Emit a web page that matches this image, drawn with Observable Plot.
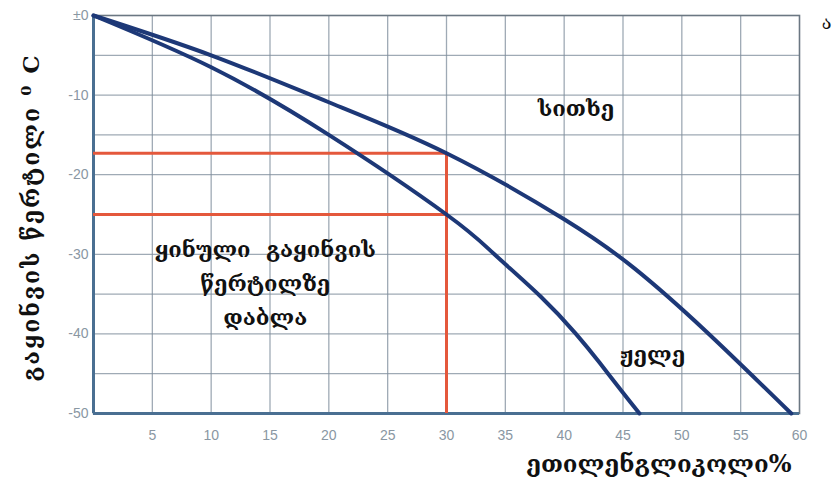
<!DOCTYPE html>
<html>
<head>
<meta charset="utf-8">
<script src="https://cdn.jsdelivr.net/npm/d3@7"></script>
<script src="https://cdn.jsdelivr.net/npm/@observablehq/plot@0.6"></script>
<style>
  html, body { margin: 0; padding: 0; background: #fff; }
  #chart svg { display: block; }
</style>
</head>
<body>
<div id="chart"></div>
<script>
// Ethylene glycol % (x) vs temperature °C (y)
const upperX = [0, 10, 20, 30, 40, 46, 52, 59.3];
const upperY = [0, -5, -10.9, -17.3, -25.6, -31.8, -39.6, -50];
const lowerX = [0, 10, 20, 30, 34, 38, 41, 43, 45, 46.4];
const lowerY = [0, -6.5, -15, -25, -29.9, -35.3, -40, -43.6, -47.4, -50];

// Red guide lines
const guideX = 30;
const guideTemps = [-17.3, -25];

// Ticks
const xTicks = [5, 10, 15, 20, 25, 30, 35, 40, 45, 50, 55, 60];
const yTicks = [0, -10, -20, -30, -40, -50];
const yTickLabels = ["±0", "-10", "-20", "-30", "-40", "-50"];
const xGrid = [5, 10, 15, 20, 25, 30, 35, 40, 45, 50, 55];
const yGrid = [-5, -10, -15, -20, -25, -30, -35, -40, -45];

// Texts
const yLabel = "გაყინვის წერტილი ⁰ C";
const xLabel = "ეთილენგლიკოლი%";
const cornerLabel = "ა";
const regionLabels = [
  {x: 41, y: -11.3, text: "სითხე"},
  {x: 47.5, y: -42.2, text: "ჟელე"},
  {x: 14.6, y: -33.2, text: "ყინული  გაყინვის\nწერტილზე\nდაბლა"}
];

const upper = upperX.map((x, i) => ({x, y: upperY[i]}));
const lower = lowerX.map((x, i) => ({x, y: lowerY[i]}));

const geoFont = "'DejaVu Serif', 'DejaVu Sans', serif";
const navy = "#1d3877";
const red = "#e4583c";

const chart = Plot.plot({
  width: 836,
  height: 493,
  marginTop: 15,
  marginBottom: 80,
  marginLeft: 93,
  marginRight: 37,
  style: {fontFamily: "'Liberation Sans', Arial, sans-serif", background: "#fff"},
  x: {domain: [0, 60]},
  y: {domain: [-50, 0]},
  marks: [
    Plot.ruleX(xGrid, {stroke: "#7f8d9c", strokeWidth: 1.3, strokeOpacity: 0.75}),
    Plot.ruleY(yGrid, {stroke: "#7f8d9c", strokeWidth: 1.3, strokeOpacity: 0.75}),
    Plot.frame({stroke: "#6b7782", strokeWidth: 1.6}),
    Plot.ruleX([0], {stroke: "#4a6f92", strokeWidth: 3}),
    Plot.ruleY([-50], {stroke: "#4a6f92", strokeWidth: 3}),
    Plot.axisX({ticks: xTicks, tickSize: 0, tickPadding: 17, fontSize: 14, color: "#8a97a3", label: null}),
    Plot.axisY({ticks: yTicks, tickSize: 0, tickPadding: 5, fontSize: 14, color: "#8a97a3", label: null,
      tickFormat: d => yTickLabels[yTicks.indexOf(d)]}),
    Plot.ruleY(guideTemps, {x1: 0, x2: guideX, stroke: red, strokeWidth: 3}),
    Plot.ruleX([guideX], {y1: guideTemps[0], y2: -50, stroke: red, strokeWidth: 3}),
    Plot.line(upper, {x: "x", y: "y", curve: "natural", stroke: navy, strokeWidth: 4}),
    Plot.line(lower, {x: "x", y: "y", curve: "natural", stroke: navy, strokeWidth: 4}),
    Plot.text(regionLabels, {x: "x", y: "y", text: "text", fontSize: 22, lineHeight: 1.55,
      fill: "#111", fontFamily: geoFont, fontWeight: "bold"}),
    Plot.text([yLabel], {frameAnchor: "left", textAnchor: "middle", rotate: -90, dx: -62, dy: 3, fontSize: 23,
      fill: "#111", fontFamily: geoFont, fontWeight: "bold", className: "ylab"}),
    Plot.text([xLabel], {frameAnchor: "bottom-right", textAnchor: "end", dx: -8, dy: 58, fontSize: 24,
      fill: "#111", fontFamily: geoFont, fontWeight: "bold"}),
    Plot.text([cornerLabel], {frameAnchor: "top-right", textAnchor: "middle", dx: 27, dy: 1, fontSize: 18,
      fill: "#111", fontFamily: geoFont})
  ]
});
d3.select(chart).selectAll(".ylab text").style("letter-spacing", "2px");
document.getElementById("chart").appendChild(chart);
</script>
</body>
</html>
